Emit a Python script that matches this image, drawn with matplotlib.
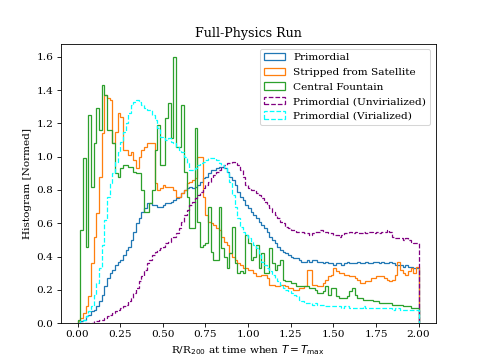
import numpy as np
import matplotlib
matplotlib.use("Agg")
import matplotlib.pyplot as plt

plt.rcParams['font.family'] = ['DejaVu Serif']

# 128 bins between 0 and 2
n_bins = 128
x_min, x_max = 0.0, 2.0

primordial = [
    0.00, 0.01, 0.02, 0.04, 0.05, 0.07, 0.08, 0.10,
    0.13, 0.17, 0.22, 0.27, 0.30, 0.32, 0.35, 0.37,
    0.38, 0.41, 0.44, 0.46, 0.50, 0.55, 0.60, 0.63,
    0.67, 0.69, 0.72, 0.72, 0.71, 0.71, 0.70, 0.70,
    0.71, 0.72, 0.72, 0.73, 0.74, 0.75, 0.76, 0.78,
    0.80, 0.81, 0.82, 0.81, 0.82, 0.83, 0.85, 0.87,
    0.88, 0.90, 0.92, 0.92, 0.93, 0.94, 0.94, 0.93,
    0.91, 0.88, 0.86, 0.83, 0.79, 0.76, 0.74, 0.71,
    0.69, 0.67, 0.65, 0.63, 0.61, 0.59, 0.57, 0.55,
    0.52, 0.50, 0.48, 0.46, 0.44, 0.43, 0.42, 0.41,
    0.40, 0.39, 0.39, 0.38, 0.37, 0.37, 0.38, 0.37,
    0.38, 0.38, 0.37, 0.37, 0.36, 0.37, 0.36, 0.36,
    0.35, 0.36, 0.36, 0.35, 0.36, 0.37, 0.36, 0.36,
    0.36, 0.37, 0.36, 0.36, 0.37, 0.36, 0.36, 0.37,
    0.37, 0.36, 0.37, 0.36, 0.36, 0.37, 0.36, 0.35,
    0.35, 0.35, 0.34, 0.35, 0.34, 0.34, 0.33, 0.33,
]

stripped = [
    0.01, 0.03, 0.06, 0.10, 0.16, 0.36, 0.52, 0.66,
    0.88, 1.14, 1.37, 1.35, 1.34, 1.08, 1.15, 1.26,
    1.24, 1.04, 1.04, 1.01, 1.03, 0.98, 0.93, 1.00,
    1.04, 1.06, 1.08, 1.08, 1.08, 0.84, 0.80, 0.81,
    0.83, 0.82, 0.82, 0.82, 0.80, 0.76, 0.76, 0.78,
    0.80, 0.84, 0.85, 0.86, 0.87, 1.00, 1.00, 0.76,
    0.65, 0.61, 0.60, 0.59, 0.57, 0.56, 0.52, 0.49,
    0.47, 0.42, 0.40, 0.38, 0.36, 0.35, 0.33, 0.33,
    0.32, 0.32, 0.30, 0.28, 0.28, 0.29, 0.29, 0.27,
    0.23, 0.23, 0.22, 0.22, 0.23, 0.23, 0.22, 0.21,
    0.21, 0.20, 0.20, 0.21, 0.21, 0.22, 0.32, 0.32,
    0.23, 0.23, 0.22, 0.22, 0.24, 0.26, 0.28, 0.29,
    0.33, 0.31, 0.30, 0.30, 0.29, 0.29, 0.28, 0.28,
    0.27, 0.26, 0.24, 0.24, 0.25, 0.25, 0.27, 0.27,
    0.28, 0.28, 0.28, 0.27, 0.26, 0.25, 0.26, 0.29,
    0.37, 0.32, 0.30, 0.29, 0.31, 0.33, 0.30, 0.34,
]

fountain = [
    0.02, 0.56, 0.99, 0.46, 1.25, 0.82, 1.08, 1.29,
    1.16, 1.43, 1.37, 1.16, 1.16, 1.08, 0.90, 0.88,
    0.93, 0.95, 0.95, 0.94, 0.94, 0.91, 0.90, 0.90,
    0.80, 0.67, 0.67, 0.72, 0.80, 1.04, 1.19, 0.95,
    0.95, 1.23, 1.32, 1.11, 1.60, 1.06, 1.06, 1.31,
    0.91, 0.76, 0.57, 0.57, 1.17, 0.61, 0.46, 0.47,
    0.48, 0.70, 0.43, 0.38, 0.38, 0.70, 0.45, 0.40,
    0.33, 0.42, 0.58, 0.36, 0.30, 0.31, 0.30, 0.53,
    0.48, 0.38, 0.40, 0.47, 0.33, 0.42, 0.30, 0.30,
    0.45, 0.36, 0.32, 0.35, 0.38, 0.26, 0.25, 0.25,
    0.24, 0.24, 0.22, 0.22, 0.22, 0.22, 0.22, 0.21,
    0.21, 0.20, 0.18, 0.18, 0.19, 0.22, 0.17, 0.21,
    0.21, 0.16, 0.15, 0.15, 0.15, 0.16, 0.19, 0.21,
    0.17, 0.15, 0.15, 0.14, 0.14, 0.14, 0.14, 0.13,
    0.13, 0.12, 0.12, 0.12, 0.12, 0.12, 0.11, 0.11,
    0.11, 0.11, 0.10, 0.10, 0.10, 0.09, 0.09, 0.09,
]

unvirialized = [
    0.00, 0.00, 0.00, 0.00, 0.00, 0.00, 0.01, 0.01,
    0.02, 0.02, 0.03, 0.04, 0.05, 0.06, 0.07, 0.08,
    0.09, 0.10, 0.11, 0.13, 0.15, 0.18, 0.21, 0.25,
    0.28, 0.32, 0.36, 0.38, 0.41, 0.43, 0.44, 0.45,
    0.46, 0.48, 0.49, 0.51, 0.52, 0.54, 0.57, 0.61,
    0.65, 0.68, 0.71, 0.73, 0.75, 0.77, 0.79, 0.81,
    0.83, 0.85, 0.87, 0.89, 0.91, 0.92, 0.94, 0.95,
    0.96, 0.96, 0.97, 0.96, 0.95, 0.92, 0.88, 0.83,
    0.81, 0.80, 0.80, 0.78, 0.77, 0.75, 0.73, 0.71,
    0.69, 0.67, 0.65, 0.63, 0.61, 0.60, 0.58, 0.57,
    0.56, 0.56, 0.55, 0.55, 0.55, 0.54, 0.54, 0.53,
    0.54, 0.55, 0.55, 0.56, 0.55, 0.55, 0.54, 0.54,
    0.53, 0.53, 0.52, 0.53, 0.54, 0.54, 0.55, 0.54,
    0.55, 0.54, 0.54, 0.55, 0.54, 0.55, 0.55, 0.54,
    0.55, 0.54, 0.55, 0.55, 0.56, 0.55, 0.52, 0.51,
    0.51, 0.51, 0.50, 0.51, 0.50, 0.49, 0.48, 0.48,
]

virialized = [
    0.00, 0.01, 0.02, 0.04, 0.07, 0.10, 0.17, 0.24,
    0.33, 0.47, 0.62, 0.76, 0.84, 0.90, 0.97, 1.03,
    1.09, 1.15, 1.20, 1.26, 1.31, 1.33, 1.34, 1.33,
    1.31, 1.29, 1.28, 1.28, 1.25, 1.22, 1.17, 1.12,
    1.11, 1.10, 1.11, 1.09, 1.08, 1.06, 1.04, 1.03,
    1.00, 0.96, 0.92, 0.92, 0.93, 0.95, 0.96, 0.97,
    0.98, 0.99, 0.99, 0.99, 0.98, 0.96, 0.95, 0.93,
    0.90, 0.85, 0.77, 0.70, 0.63, 0.58, 0.55, 0.53,
    0.51, 0.49, 0.47, 0.45, 0.41, 0.37, 0.35, 0.33,
    0.31, 0.29, 0.27, 0.25, 0.23, 0.21, 0.20, 0.19,
    0.18, 0.17, 0.16, 0.14, 0.13, 0.12, 0.12, 0.12,
    0.11, 0.12, 0.11, 0.11, 0.11, 0.10, 0.10, 0.10,
    0.10, 0.10, 0.10, 0.09, 0.10, 0.10, 0.09, 0.09,
    0.09, 0.09, 0.09, 0.10, 0.09, 0.09, 0.09, 0.09,
    0.09, 0.09, 0.09, 0.09, 0.09, 0.09, 0.08, 0.09,
    0.09, 0.08, 0.08, 0.08, 0.08, 0.08, 0.08, 0.08,
]

labels = ["Primordial", "Stripped from Satellite", "Central Fountain",
          "Primordial (Unvirialized)", "Primordial (Virialized)"]
series = [primordial, stripped, fountain, unvirialized, virialized]
colors = ["#1f77b4", "#ff7f0e", "#2ca02c", "purple", "cyan"]
styles = ["-", "-", "-", "--", "--"]

edges = np.linspace(x_min, x_max, n_bins + 1)
centers = 0.5 * (edges[:-1] + edges[1:])

fig, ax = plt.subplots(figsize=(6.4, 4.8), dpi=75.625)
for vals, lab, col, ls in zip(series, labels, colors, styles):
    ax.hist(centers, bins=edges, weights=vals, histtype='step',
            color=col, linestyle=ls, linewidth=1.2, label=lab)

ax.set_title("Full-Physics Run")
ax.set_ylabel("Histogram [Normed]")
ax.set_xlabel(r"R/R$_{200}$ at time when $T=T_{\max}$")
ax.legend(loc="upper right")
fig.savefig("out.png", dpi=75.625)
